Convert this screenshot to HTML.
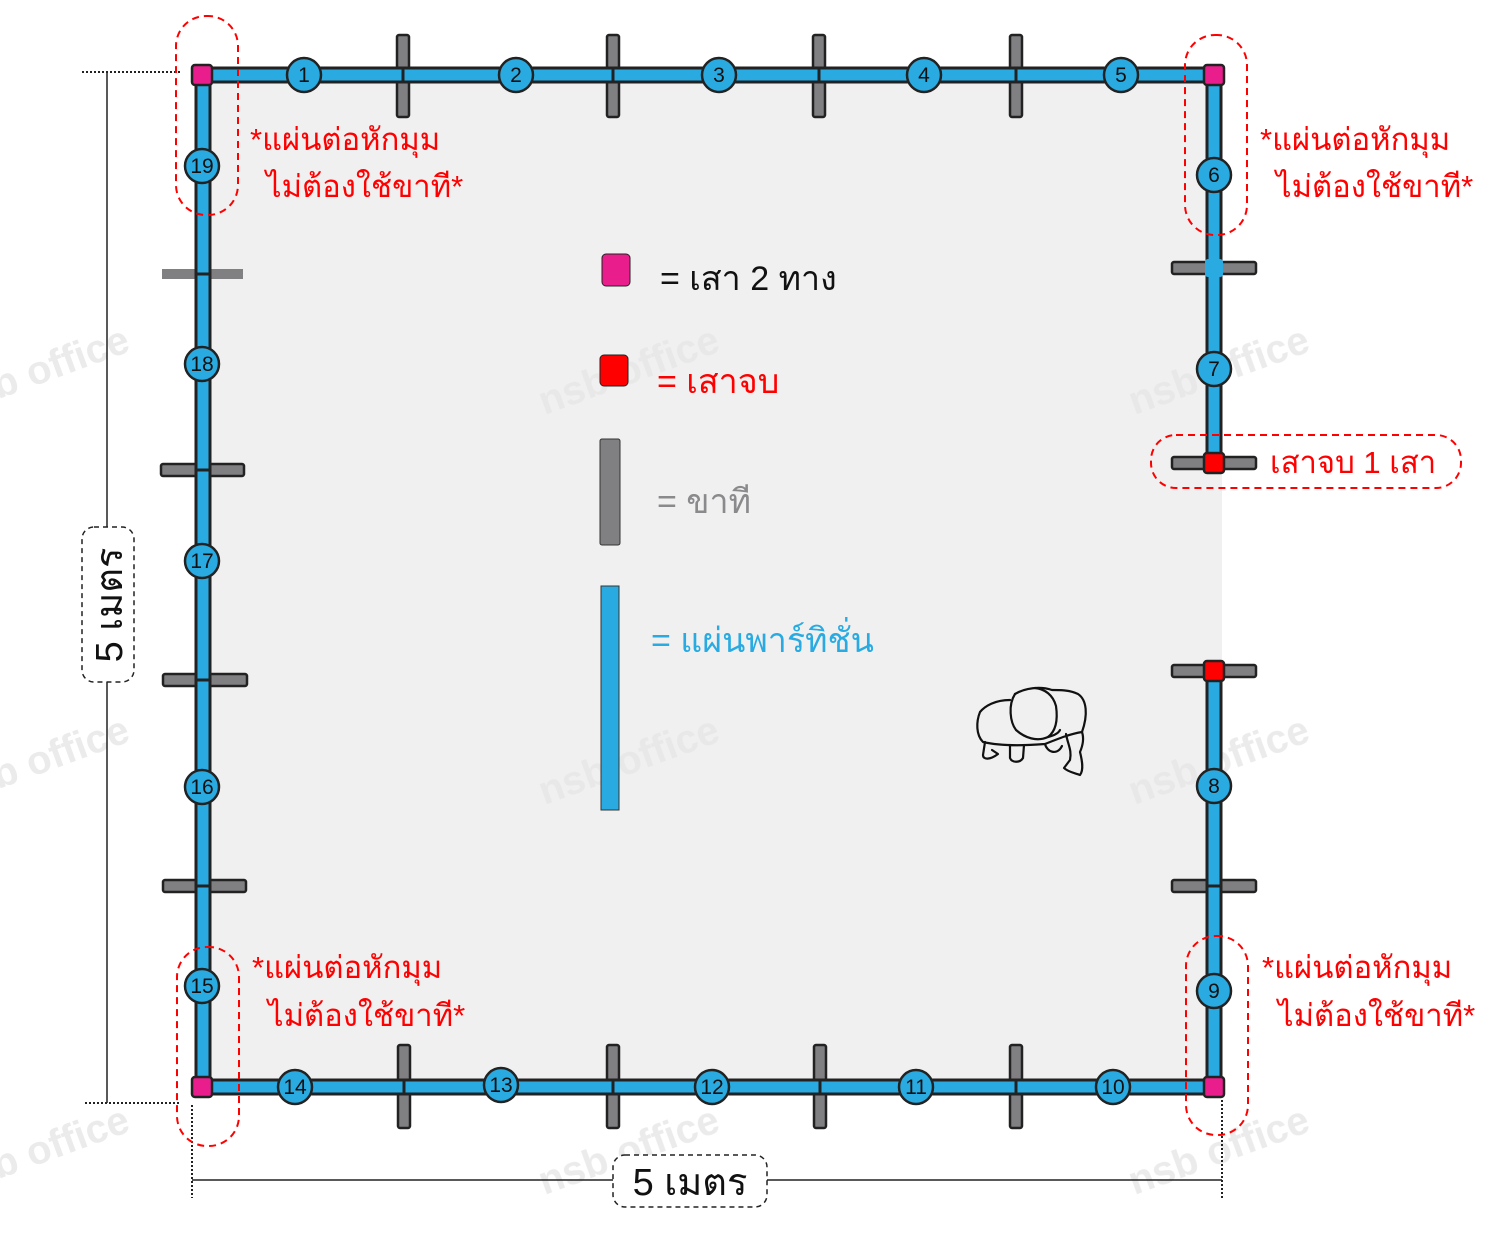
<!DOCTYPE html>
<html><head><meta charset="utf-8"><style>
html,body{margin:0;padding:0;background:#fff}
svg{display:block}
text{font-family:"Liberation Sans","Noto Sans CJK SC",sans-serif}
</style></head><body>
<svg width="1500" height="1233" viewBox="0 0 1500 1233" xmlns="http://www.w3.org/2000/svg">
<rect x="0" y="0" width="1500" height="1233" fill="#fff"/>
<rect x="203" y="75" width="1019" height="1012" fill="#f0f0f0"/>

<!-- watermarks -->
<g fill="#e6e6e6" font-size="40" font-weight="bold" opacity="0.8">
<text x="525" y="385" transform="rotate(-20 620 345)">nsb office</text>
<text x="525" y="775" transform="rotate(-20 620 735)">nsb office</text>
<text x="525" y="1165" transform="rotate(-20 620 1125)">nsb office</text>
<text x="1115" y="385" transform="rotate(-20 1210 345)">nsb office</text>
<text x="1115" y="775" transform="rotate(-20 1210 735)">nsb office</text>
<text x="1115" y="1165" transform="rotate(-20 1210 1125)">nsb office</text>
<text x="-65" y="385" transform="rotate(-20 30 345)">nsb office</text>
<text x="-65" y="775" transform="rotate(-20 30 735)">nsb office</text>
<text x="-65" y="1165" transform="rotate(-20 30 1125)">nsb office</text>
</g>

<!-- dimension lines -->
<g stroke="#222" fill="none">
<line x1="107" y1="72" x2="107" y2="1103" stroke-width="1.5"/>
<line x1="82" y1="72" x2="180" y2="72" stroke-width="2" stroke-dasharray="2,2"/>
<line x1="85" y1="1103" x2="180" y2="1103" stroke-width="2" stroke-dasharray="2,2"/>
<line x1="192" y1="1180" x2="1222" y2="1180" stroke-width="1.5"/>
<line x1="192" y1="1105" x2="192" y2="1198" stroke-width="2" stroke-dasharray="2,2"/>
<line x1="1222" y1="1100" x2="1222" y2="1198" stroke-width="2" stroke-dasharray="2,2"/>
</g>
<rect x="82" y="527" width="52" height="155" rx="12" fill="#fff" stroke="#222" stroke-width="1.5" stroke-dasharray="5,4"/>
<text x="0" y="0" font-size="38" fill="#111" text-anchor="middle" transform="translate(122 605) rotate(-90)">5 เมตร</text>
<rect x="613" y="1155" width="154" height="52" rx="12" fill="#fff" stroke="#222" stroke-width="1.5" stroke-dasharray="5,4"/>
<text x="690" y="1195" font-size="38" fill="#111" text-anchor="middle">5 เมตร</text>

<!-- legs -->
<g fill="#808083" stroke="#222" stroke-width="2.5">
<rect x="397" y="35" width="12" height="82" rx="2"/>
<rect x="607" y="35" width="12" height="82" rx="2"/>
<rect x="813" y="35" width="12" height="82" rx="2"/>
<rect x="1010" y="35" width="12" height="82" rx="2"/>
<rect x="398" y="1045" width="12" height="83" rx="2"/>
<rect x="607" y="1045" width="12" height="83" rx="2"/>
<rect x="814" y="1045" width="12" height="83" rx="2"/>
<rect x="1010" y="1045" width="12" height="83" rx="2"/>
<rect x="161" y="464" width="83" height="12" rx="2"/>
<rect x="163" y="674" width="84" height="12" rx="2"/>
<rect x="163" y="880" width="83" height="12" rx="2"/>
<rect x="1172" y="262" width="84" height="12" rx="2"/>
<rect x="1172" y="457" width="84" height="12" rx="2"/>
<rect x="1172" y="665" width="84" height="12" rx="2"/>
<rect x="1172" y="880" width="84" height="12" rx="2"/>
</g>
<rect x="162" y="269" width="81" height="10" fill="#808083"/>

<!-- bars -->
<g fill="#29abe2" stroke="#222" stroke-width="3">
<rect x="202" y="68" width="1012" height="14"/>
<rect x="202" y="1080" width="1012" height="14"/>
<rect x="196" y="75" width="14" height="1012"/>
<rect x="1207" y="75" width="14" height="388"/>
<rect x="1207" y="671" width="14" height="416"/>
</g>
<g stroke="#222" stroke-width="3">
<line x1="403" y1="68" x2="403" y2="82"/><line x1="613" y1="68" x2="613" y2="82"/>
<line x1="819" y1="68" x2="819" y2="82"/><line x1="1016" y1="68" x2="1016" y2="82"/>
<line x1="404" y1="1080" x2="404" y2="1094"/><line x1="613" y1="1080" x2="613" y2="1094"/>
<line x1="820" y1="1080" x2="820" y2="1094"/><line x1="1016" y1="1080" x2="1016" y2="1094"/>
<line x1="196" y1="274" x2="210" y2="274"/><line x1="196" y1="470" x2="210" y2="470"/>
<line x1="196" y1="680" x2="210" y2="680"/><line x1="196" y1="886" x2="210" y2="886"/>
<line x1="1207" y1="886" x2="1221" y2="886"/>
</g>
<rect x="1205" y="259" width="18" height="18" rx="3" fill="#29abe2"/>

<!-- posts -->
<g stroke="#222" stroke-width="2.5">
<rect x="192" y="65" width="20" height="20" rx="3" fill="#e91e8c"/>
<rect x="1204" y="65" width="20" height="20" rx="3" fill="#e91e8c"/>
<rect x="192" y="1077" width="20" height="20" rx="3" fill="#e91e8c"/>
<rect x="1204" y="1077" width="20" height="20" rx="3" fill="#e91e8c"/>
<rect x="1204" y="453" width="20" height="20" rx="3" fill="#ff0000"/>
<rect x="1204" y="661" width="20" height="20" rx="3" fill="#ff0000"/>
</g>

<!-- numbered circles -->
<g fill="#29abe2" stroke="#222" stroke-width="2.5">
<circle cx="304" cy="75" r="17"/><circle cx="516" cy="75" r="17"/><circle cx="719" cy="75" r="17"/><circle cx="924" cy="75" r="17"/><circle cx="1121" cy="75" r="17"/>
<circle cx="1214" cy="175" r="17"/><circle cx="1214" cy="369" r="17"/><circle cx="1214" cy="786" r="17"/><circle cx="1214" cy="991" r="17"/>
<circle cx="1113" cy="1087" r="17"/><circle cx="916" cy="1087" r="17"/><circle cx="712" cy="1087" r="17"/><circle cx="501" cy="1085" r="17"/><circle cx="295" cy="1087" r="17"/>
<circle cx="202" cy="986" r="17"/><circle cx="202" cy="787" r="17"/><circle cx="202" cy="561" r="17"/><circle cx="202" cy="364" r="17"/><circle cx="202" cy="166" r="17"/>
</g>
<g font-size="21" fill="#111" text-anchor="middle">
<text x="304" y="82">1</text><text x="516" y="82">2</text><text x="719" y="82">3</text><text x="924" y="82">4</text><text x="1121" y="82">5</text>
<text x="1214" y="182">6</text><text x="1214" y="376">7</text><text x="1214" y="793">8</text><text x="1214" y="998">9</text>
<text x="1113" y="1094">10</text><text x="916" y="1094">11</text><text x="712" y="1094">12</text><text x="501" y="1092">13</text><text x="295" y="1094">14</text>
<text x="202" y="993">15</text><text x="202" y="794">16</text><text x="202" y="568">17</text><text x="202" y="371">18</text><text x="202" y="173">19</text>
</g>

<!-- red dashed callouts -->
<g fill="none" stroke="#ff0000" stroke-width="2" stroke-dasharray="7,5">
<rect x="176" y="16" width="62" height="199" rx="30"/>
<rect x="1185" y="35" width="62" height="200" rx="30"/>
<rect x="177" y="947" width="62" height="199" rx="30"/>
<rect x="1186" y="936" width="62" height="199" rx="30"/>
<rect x="1151" y="435" width="310" height="53" rx="25"/>
</g>
<g fill="#ff0000" font-size="31">
<text x="250" y="150">*แผ่นต่อหักมุม</text>
<text x="266" y="197">ไม่ต้องใช้ขาที*</text>
<text x="1260" y="150">*แผ่นต่อหักมุม</text>
<text x="1276" y="197">ไม่ต้องใช้ขาที*</text>
<text x="252" y="978">*แผ่นต่อหักมุม</text>
<text x="268" y="1026">ไม่ต้องใช้ขาที*</text>
<text x="1262" y="978">*แผ่นต่อหักมุม</text>
<text x="1278" y="1026">ไม่ต้องใช้ขาที*</text>
<text x="1270" y="473">เสาจบ 1 เสา</text>
</g>

<!-- legend -->
<rect x="602" y="254" width="28" height="32" rx="4" fill="#e91e8c" stroke="#222" stroke-width="1"/>
<text x="660" y="290" font-size="34" fill="#111">= เสา 2 ทาง</text>
<rect x="600" y="355" width="28" height="31" rx="4" fill="#ff0000" stroke="#222" stroke-width="1"/>
<text x="657" y="393" font-size="34" fill="#ff0000">= เสาจบ</text>
<rect x="600" y="439" width="20" height="106" rx="2" fill="#808083" stroke="#333" stroke-width="1"/>
<text x="657" y="513" font-size="34" fill="#8a8a8d">= ขาที</text>
<rect x="601" y="586" width="18" height="224" fill="#29abe2" stroke="#333" stroke-width="1"/>
<text x="651" y="652" font-size="34" fill="#29abe2">= แผ่นพาร์ทิชั่น</text>

<!-- elephant -->
<g fill="none" stroke="#111" stroke-width="2.2" stroke-linecap="round" stroke-linejoin="round">
<path d="M1010 700 C995 700 985 706 980 712 C976 722 976 735 983 742 C1000 746 1020 746 1045 744 C1060 738 1070 734 1082 732 C1088 715 1087 700 1078 694 C1070 690 1060 690 1052 690 C1040 686 1025 688 1015 694"/>
<path d="M1015 694 C1008 705 1010 722 1016 730 C1025 738 1037 742 1048 737 C1056 731 1058 720 1056 706 C1053 695 1045 689 1035 688"/>
<path d="M1048 737 C1052 736 1058 734 1060 730"/>
<path d="M985 742 L983 755 C983 760 990 760 998 754 L992 750"/>
<path d="M1010 745 L1010 758 C1012 763 1020 763 1023 758 L1024 745"/>
<path d="M1045 744 C1047 752 1057 756 1062 746"/>
<path d="M1066 734 C1068 745 1072 750 1070 760 L1064 768 C1068 772 1075 773 1080 775 C1084 770 1082 760 1080 752 C1083 745 1084 738 1082 732"/>
</g>
</svg>
</body></html>
